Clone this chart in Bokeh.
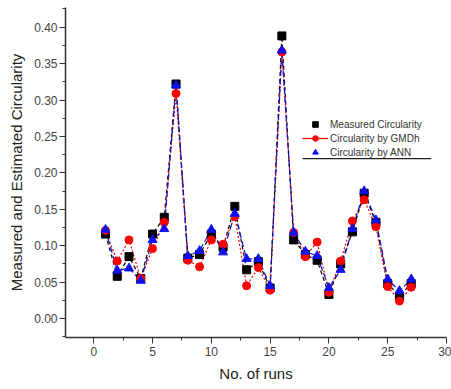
from bokeh.plotting import figure
from bokeh.models import Range1d, Legend, LegendItem, FixedTicker
from bokeh.embed import file_html
from bokeh.resources import INLINE

runs = list(range(1, 28))
measured = [0.116, 0.058, 0.085, 0.055, 0.116, 0.139, 0.322, 0.083, 0.088, 0.116,
            0.098, 0.154, 0.067, 0.078, 0.042, 0.388, 0.108, 0.088, 0.080, 0.033,
            0.075, 0.119, 0.172, 0.132, 0.048, 0.031, 0.048]
gmdh = [0.121, 0.079, 0.108, 0.055, 0.096, 0.132, 0.309, 0.080, 0.071, 0.108,
        0.102, 0.140, 0.045, 0.070, 0.039, 0.366, 0.118, 0.085, 0.105, 0.036,
        0.079, 0.134, 0.163, 0.126, 0.044, 0.024, 0.043]
ann = [0.122, 0.066, 0.069, 0.052, 0.108, 0.123, 0.320, 0.086, 0.093, 0.122,
       0.091, 0.144, 0.082, 0.082, 0.045, 0.368, 0.118, 0.092, 0.086, 0.042,
       0.067, 0.123, 0.175, 0.135, 0.054, 0.038, 0.054]
x_ticks = [0, 5, 10, 15, 20, 25, 30]
y_ticks = [0.00, 0.05, 0.10, 0.15, 0.20, 0.25, 0.30, 0.35, 0.40]
y_tick_labels = ["0.00", "0.05", "0.10", "0.15", "0.20", "0.25", "0.30", "0.35", "0.40"]

p = figure(width=451, height=389, output_backend="svg", toolbar_location=None,
           x_range=Range1d(-2.4, 30), y_range=Range1d(-0.026, 0.427),
           min_border_left=65, min_border_right=5, min_border_top=7, min_border_bottom=52)
p.outline_line_color = None
p.grid.visible = False
p.background_fill_color = "white"

# lines
p.line(runs, measured, line_color="black", line_width=1.2, line_dash="4 3")
p.line(runs, gmdh, line_color="red", line_width=1.2, line_dash="2 2")
p.line(runs, ann, line_color="#1010cc", line_width=1.2, line_dash="6 3")

# markers
r_meas = p.scatter(runs, measured, marker="square", size=8, fill_color="black", line_color="black")
r_gmdh_line = p.line(runs[:1], gmdh[:1], line_color="red", line_width=1.3)
r_gmdh = p.scatter(runs, gmdh, marker="circle", size=8, fill_color="red", line_color="red")
r_ann = p.scatter(runs, ann, marker="triangle", size=9, fill_color="#1010ee", line_color="#1010ee")

legend = Legend(items=[
    LegendItem(label="Measured Circularity", renderers=[r_meas]),
    LegendItem(label="Circularity by GMDh", renderers=[r_gmdh_line, r_gmdh]),
    LegendItem(label="Circularity by ANN", renderers=[r_ann]),
], location=(237, 178), border_line_color=None, background_fill_alpha=0,
   label_text_font="Liberation Sans", label_text_font_size="10px", label_text_color="#333333",
   glyph_width=26, glyph_height=14, label_height=14, spacing=0, padding=0, margin=0,
   label_standoff=2)
p.add_layout(legend, "center")

# underline below the legend
p.segment(x0=[17.76], y0=[0.2196], x1=[28.7], y1=[0.2196], line_color="#222222", line_width=1.3)

# axes
for ax in (p.xaxis[0], p.yaxis[0]):
    ax.axis_line_color = "#333333"
    ax.axis_line_width = 1.5
    ax.major_tick_line_color = "#333333"
    ax.minor_tick_line_color = "#333333"
    ax.major_tick_out = 6
    ax.major_tick_in = 0
    ax.minor_tick_out = 3
    ax.minor_tick_in = 0
    ax.major_label_text_font = "Liberation Sans"
    ax.major_label_text_font_size = "12px"
    ax.major_label_text_color = "#444444"
    ax.axis_label_text_font = "Liberation Sans"
    ax.axis_label_text_font_size = "15px"
    ax.axis_label_text_font_style = "normal"
    ax.axis_label_text_color = "#222222"

p.xaxis.ticker = FixedTicker(ticks=x_ticks, minor_ticks=[-2.5, 2.5, 7.5, 12.5, 17.5, 22.5, 27.5])
p.yaxis.ticker = FixedTicker(ticks=y_ticks, minor_ticks=[-0.025, 0.025, 0.075, 0.125, 0.175, 0.225, 0.275, 0.325, 0.375, 0.425])
p.yaxis.major_label_overrides = {t: l for t, l in zip(y_ticks, y_tick_labels)}
p.xaxis.axis_label = "No. of runs"
p.yaxis.axis_label = "Measured and Estimated Circularity"
p.xaxis.major_label_standoff = 3
p.yaxis.major_label_standoff = 2
p.xaxis.axis_label_standoff = 6
p.yaxis.axis_label_standoff = 6

open("out.html", "w").write(file_html(p, INLINE))
